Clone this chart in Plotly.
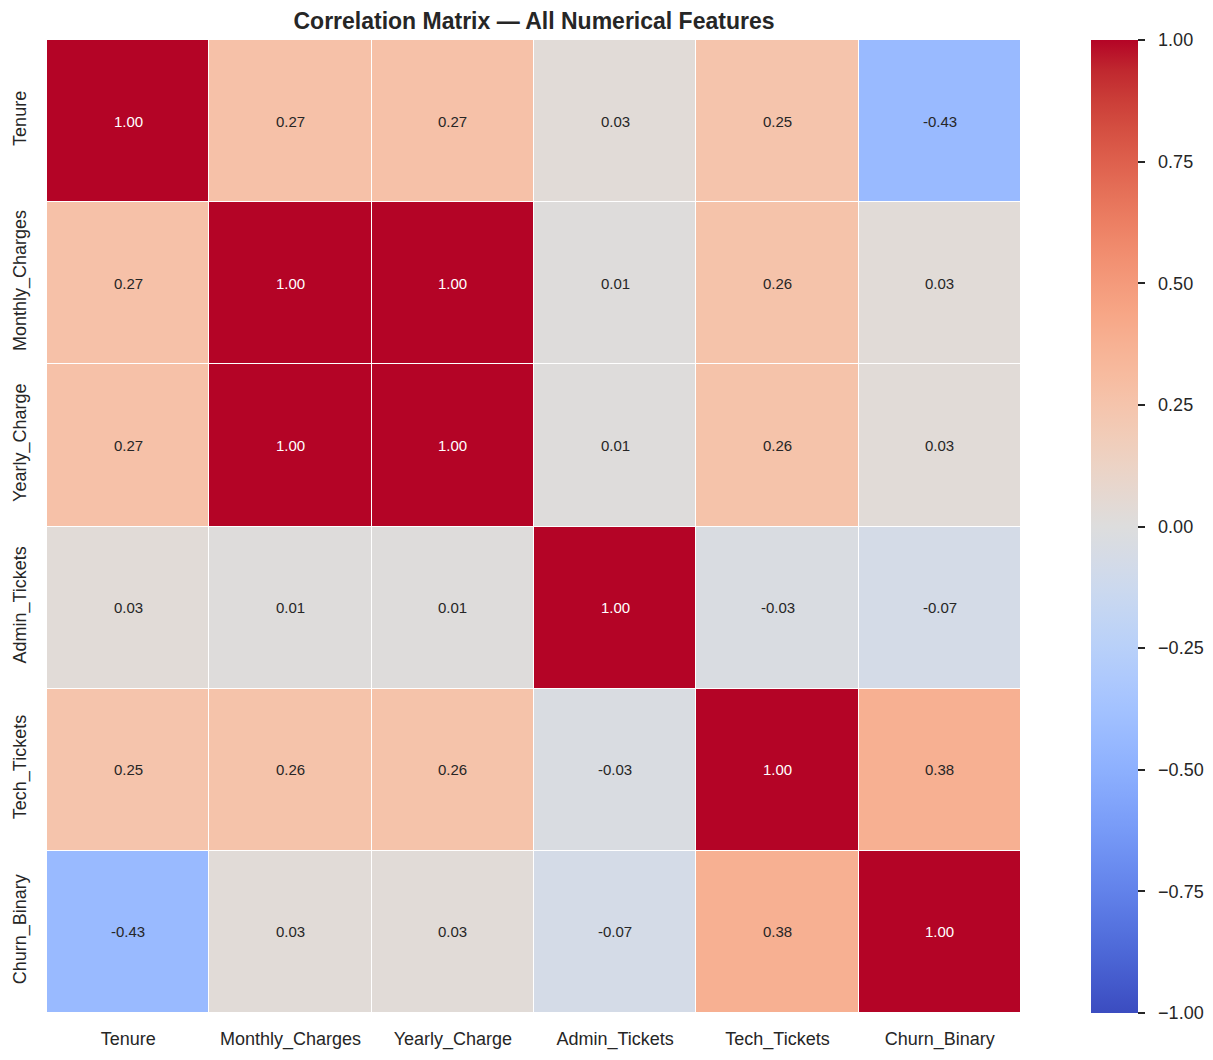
import plotly.graph_objects as go

features = ["Tenure", "Monthly_Charges", "Yearly_Charge", "Admin_Tickets", "Tech_Tickets", "Churn_Binary"]
corr_tenure = [1.00, 0.27, 0.27, 0.03, 0.25, -0.43]
corr_monthly = [0.27, 1.00, 1.00, 0.01, 0.26, 0.03]
corr_yearly = [0.27, 1.00, 1.00, 0.01, 0.26, 0.03]
corr_admin = [0.03, 0.01, 0.01, 1.00, -0.03, -0.07]
corr_tech = [0.25, 0.26, 0.26, -0.03, 1.00, 0.38]
corr_churn = [-0.43, 0.03, 0.03, -0.07, 0.38, 1.00]
matrix = [corr_tenure, corr_monthly, corr_yearly, corr_admin, corr_tech, corr_churn]
cbar_ticks = [-1.0, -0.75, -0.5, -0.25, 0.0, 0.25, 0.5, 0.75, 1.0]

coolwarm_rgb = [
    (59, 76, 192), (68, 90, 204), (77, 104, 215), (87, 117, 225), (98, 130, 234),
    (108, 142, 241), (119, 154, 247), (130, 165, 251), (141, 176, 254), (152, 185, 255),
    (163, 194, 255), (174, 201, 253), (184, 208, 249), (194, 213, 244), (204, 217, 238),
    (213, 219, 230), (221, 221, 221), (229, 216, 209), (236, 211, 197), (241, 204, 184),
    (245, 196, 172), (247, 187, 159), (247, 177, 147), (247, 166, 134), (244, 154, 123),
    (241, 141, 111), (236, 127, 99), (229, 112, 88), (222, 96, 77), (213, 80, 66),
    (203, 62, 56), (192, 40, 47), (180, 4, 38),
]
n = len(coolwarm_rgb) - 1
colorscale = [[i / n, f"rgb({r},{g},{b})"] for i, (r, g, b) in enumerate(coolwarm_rgb)]

FONT = "Liberation Sans, Arial, sans-serif"
TXT = "#262626"

pad = '<span style="color:rgba(255,255,255,0)">0</span>'
cbar_text = [pad + f"{v:.2f}".replace("-", "\u2212") for v in cbar_ticks]

fig = go.Figure(
    go.Heatmap(
        z=matrix,
        x=features,
        y=features,
        zmin=-1,
        zmax=1,
        colorscale=colorscale,
        xgap=1,
        ygap=1,
        hoverongaps=False,
        colorbar=dict(
            x=1.0719,
            xanchor="left",
            xref="paper",
            y=0.5,
            yanchor="middle",
            len=1.0,
            lenmode="fraction",
            ypad=0,
            xpad=0,
            thickness=47,
            outlinewidth=0,
            tickmode="array",
            tickvals=cbar_ticks,
            ticktext=cbar_text,
            ticks="outside",
            ticklen=7,
            tickwidth=1.5,
            tickcolor=TXT,
            tickfont=dict(family=FONT, size=18, color=TXT),
        ),
    )
)

annotations = []
for i, row_name in enumerate(features):
    for j, col_name in enumerate(features):
        v = matrix[i][j]
        annotations.append(
            dict(
                x=col_name,
                y=row_name,
                xref="x",
                yref="y",
                text=f"{v:.2f}",
                showarrow=False,
                font=dict(family=FONT, size=15, color="white" if abs(v) > 0.75 else TXT),
            )
        )

fig.update_layout(
    width=1197,
    height=1044,
    margin=dict(l=39, r=184, t=32, b=39, autoexpand=False),
    paper_bgcolor="white",
    plot_bgcolor="white",
    font=dict(family=FONT, color=TXT),
    title=dict(
        text="<b>Correlation Matrix — All Numerical Features</b>",
        x=0.5,
        xref="paper",
        xanchor="center",
        y=1 - 13 / 1044,
        yref="container",
        yanchor="middle",
        font=dict(family=FONT, size=23, color=TXT),
    ),
    annotations=annotations,
)
fig.update_xaxes(
    automargin=False,
    showgrid=False,
    zeroline=False,
    showline=False,
    ticks="",
    ticklabelstandoff=13,
    tickfont=dict(family=FONT, size=18, color=TXT),
)
fig.update_yaxes(
    automargin=False,
    autorange="reversed",
    showgrid=False,
    zeroline=False,
    showline=False,
    ticks="",
    tickangle=-90,
    ticklabelstandoff=16,
    tickfont=dict(family=FONT, size=18, color=TXT),
)

fig.write_html("out.html")
